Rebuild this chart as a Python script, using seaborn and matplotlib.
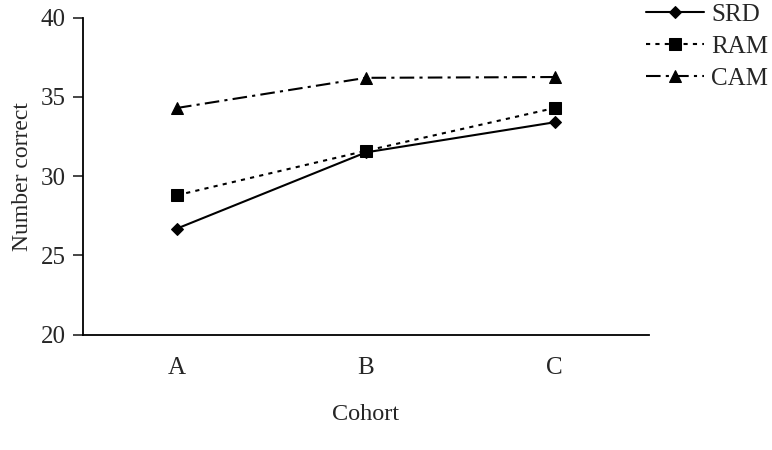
import pandas as pd
import matplotlib
matplotlib.use('Agg')
import matplotlib.pyplot as plt
import seaborn as sns

# values
cohorts = ['A', 'B', 'C']
srd = [26.7, 31.5, 33.4]
ram = [28.8, 31.6, 34.3]
cam = [34.3, 36.2, 36.25]

df = pd.DataFrame({
    'Cohort': cohorts * 3,
    'Number correct': srd + ram + cam,
    'Method': ['SRD'] * 3 + ['RAM'] * 3 + ['CAM'] * 3,
})

sns.set_style('white')
plt.rcParams['font.family'] = ['Liberation Serif', 'DejaVu Serif']

fig = plt.figure(figsize=(7.72, 4.5), dpi=100)
ax = fig.add_axes([0.107, 0.256, 0.734, 0.705])

styles = {
    'SRD': dict(marker='D', markersize=6.5, linestyle='-'),
    'RAM': dict(marker='s', markersize=8, dashes=(2, 2.5)),
    'CAM': dict(marker='^', markersize=8, dashes=(7, 2.5, 1.5, 2.5)),
}
for name in ['SRD', 'RAM', 'CAM']:
    sub = df[df['Method'] == name]
    sns.lineplot(data=sub, x='Cohort', y='Number correct', ax=ax, color='black',
                 linewidth=1.5, markeredgecolor='black', label=name, **styles[name])

ax.set_xlim(-0.5, 2.5)
ax.set_ylim(20, 40)
ax.set_yticks([20, 25, 30, 35, 40])
ax.set_xlabel('Cohort', fontsize=17.5, labelpad=18)
ax.set_ylabel('Number correct', fontsize=17, labelpad=6)
ax.tick_params(axis='y', direction='out', length=7, width=1.2, labelsize=18, left=True, pad=5)
ax.tick_params(axis='x', length=0, labelsize=18, pad=16)
for s in ['top', 'right']:
    ax.spines[s].set_visible(False)
for s in ['left', 'bottom']:
    ax.spines[s].set_color('black')
    ax.spines[s].set_linewidth(1.3)

ax.legend(loc='upper left', bbox_to_anchor=(0.995, 1.045), frameon=False, fontsize=18,
          handlelength=2.3, labelspacing=0.38, handletextpad=0.3, borderpad=0, borderaxespad=0)

fig.savefig('out.png', dpi=100)
